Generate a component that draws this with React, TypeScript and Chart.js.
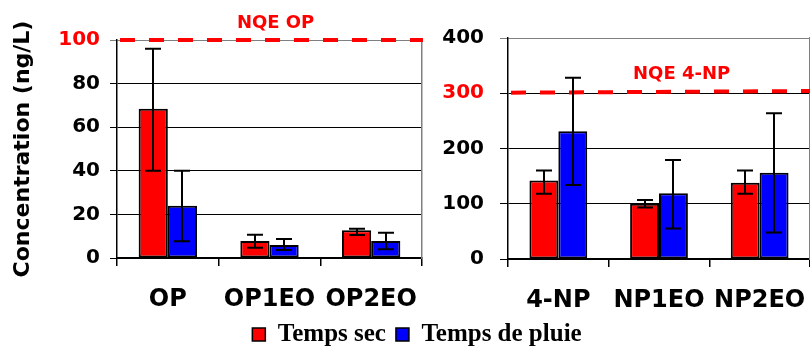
import { useEffect, useRef } from 'react';
import { Chart, registerables } from 'chart.js';
Chart.register(...registerables);

// ---- Data: left panel (OP family, ng/L) ----
const opCategories = ['OP', 'OP1EO', 'OP2EO'];
const opSec = [68.5, 7.8, 12.7];
const opSecLow = [40, 4.7, 10.5];
const opSecHigh = [96, 10.7, 13.4];
const opPluie = [24, 6, 7.8];
const opPluieLow = [7.7, 3.7, 4];
const opPluieHigh = [40, 8.7, 11.6];
const opTicks = [0, 20, 40, 60, 80, 100];
const nqeOp = [100, 100];

// ---- Data: right panel (NP family, ng/L) ----
const npCategories = ['4-NP', 'NP1EO', 'NP2EO'];
const npSec = [142, 100, 138];
const npSecLow = [118, 93, 118];
const npSecHigh = [160, 107, 160];
const npPluie = [231, 119, 156];
const npPluieLow = [134, 55, 48];
const npPluieHigh = [328, 179, 264];
const npTicks = [0, 100, 200, 300, 400];
const nqeNp = [301, 304];

const seriesNames = ['Temps sec', 'Temps de pluie'];
const seriesColors = ['#FF0000', '#0000FF'];
const nqeTexts = ['NQE OP', 'NQE 4-NP'];
const yTitle = 'Concentration (ng/L)';

const SANS = 'DejaVu Sans';

// Error bars drawn from each dataset's low/high arrays through the y scale
const errorBarPlugin = {
  id: 'errorBars',
  afterDatasetsDraw(chart: any) {
    const ctx = chart.ctx;
    chart.data.datasets.forEach((ds: any, di: number) => {
      if (!ds.errLow) return;
      const meta = chart.getDatasetMeta(di);
      const ys = chart.scales[meta.yAxisID];
      meta.data.forEach((el: any, i: number) => {
        const x = Math.round(el.x);
        const yh = ys.getPixelForValue(ds.errHigh[i]);
        const yl = ys.getPixelForValue(ds.errLow[i]);
        ctx.save();
        ctx.strokeStyle = '#000';
        ctx.lineWidth = 2;
        ctx.beginPath();
        ctx.moveTo(x, yh);
        ctx.lineTo(x, yl);
        ctx.moveTo(x - 8, yh);
        ctx.lineTo(x + 8, yh);
        ctx.moveTo(x - 8, yl);
        ctx.lineTo(x + 8, yl);
        ctx.stroke();
        ctx.restore();
      });
    });
  },
};

// NQE threshold line (through the y scale) and its label
const nqePlugin = {
  id: 'nqe',
  afterDatasetsDraw(chart: any, _args: any, opts: any) {
    if (!opts || !opts.values) return;
    const { ctx, chartArea } = chart;
    const ys = chart.scales.y;
    const y0 = ys.getPixelForValue(opts.values[0]);
    const y1 = ys.getPixelForValue(opts.values[1]);
    ctx.save();
    ctx.strokeStyle = '#FF0000';
    ctx.lineWidth = 4;
    ctx.setLineDash([15, 14]);
    ctx.beginPath();
    ctx.moveTo(chartArea.left + 3, y0);
    ctx.lineTo(chartArea.right + 1, y1);
    ctx.stroke();
    ctx.setLineDash([]);
    ctx.font = `bold 18px "${SANS}"`;
    ctx.fillStyle = '#FF0000';
    ctx.textAlign = 'center';
    ctx.textBaseline = 'middle';
    const lx = chartArea.left + opts.labelX * (chartArea.right - chartArea.left);
    ctx.fillText(opts.text, lx, ys.getPixelForValue(opts.labelY));
    ctx.restore();
  },
};

type PanelCfg = {
  categories: string[];
  sec: number[]; secLow: number[]; secHigh: number[];
  pluie: number[]; pluieLow: number[]; pluieHigh: number[];
  ticks: number[];
  redTick: number;
  nqe: number[];
  nqeText: string;
  nqeX: number;
  nqeY: number;
  axisWidth: number;
  tickLen: number;
  tickPad: number;
  showTitle: boolean;
  padTop: number;
  padRight: number;
  xHeight: number;
};

function makePanel(canvas: HTMLCanvasElement, c: PanelCfg) {
  const max = c.ticks[c.ticks.length - 1];
  const barCommon = {
    type: 'bar',
    borderColor: '#000',
    borderWidth: 2,
    borderSkipped: false,
    barPercentage: 1,
    categoryPercentage: 0.574,
  };
  return new Chart(canvas, {
    type: 'bar',
    data: {
      labels: c.categories,
      datasets: [
        {
          ...barCommon,
          label: seriesNames[0],
          data: c.sec,
          backgroundColor: seriesColors[0],
          errLow: c.secLow,
          errHigh: c.secHigh,
        } as any,
        {
          ...barCommon,
          label: seriesNames[1],
          data: c.pluie,
          backgroundColor: seriesColors[1],
          errLow: c.pluieLow,
          errHigh: c.pluieHigh,
        } as any,
      ],
    },
    options: {
      animation: false,
      responsive: false,
      events: [],
      layout: { padding: { top: c.padTop, right: c.padRight, left: 0, bottom: 0 } },
      plugins: {
        legend: { display: false },
        tooltip: { enabled: false },
        nqe: { values: c.nqe, text: c.nqeText, labelX: c.nqeX, labelY: c.nqeY },
      } as any,
      scales: {
        x: {
          type: 'category',
          offset: true,
          grid: {
            offset: true,
            drawOnChartArea: false,
            drawTicks: true,
            tickLength: 8,
            color: '#000',
            lineWidth: 1.5,
          },
          border: { color: '#000', width: 2 },
          ticks: {
            font: { family: SANS, weight: 'bold', size: 24 },
            color: '#000',
            padding: 19,
            maxRotation: 0,
            autoSkip: false,
          },
          afterFit: (s: any) => {
            s.height = c.xHeight;
            s.paddingLeft = 0;
            s.paddingRight = 0;
          },
        },
        y: {
          type: 'linear',
          position: 'left',
          min: 0,
          max,
          afterBuildTicks: (s: any) => {
            s.ticks = c.ticks.map((v) => ({ value: v }));
          },
          ticks: {
            color: (ctx: any) => (ctx.tick && ctx.tick.value === c.redTick ? '#FF0000' : '#000'),
            font: { family: SANS, weight: 'bold', size: 20 },
            padding: c.tickPad,
          },
          grid: {
            color: (ctx: any) => (ctx.tick && ctx.tick.value === max ? '#808080' : '#000'),
            lineWidth: 1,
            tickLength: c.tickLen,
            drawTicks: true,
          },
          border: { color: '#000', width: 1.5 },
          title: {
            display: c.showTitle,
            text: yTitle,
            color: '#000',
            font: { family: SANS, weight: 'bold', size: 22 },
            padding: { top: 10, bottom: 0 },
          },
          afterFit: (s: any) => {
            s.width = c.axisWidth;
            s.paddingTop = 0;
            s.paddingBottom = 0;
          },
        },
        y2: {
          type: 'linear',
          position: 'right',
          display: true,
          ticks: { display: false },
          grid: { drawOnChartArea: false, drawTicks: false },
          border: { color: '#808080', width: 1.5 },
          afterFit: (s: any) => {
            s.width = 0;
            s.paddingTop = 0;
            s.paddingBottom = 0;
          },
        },
      } as any,
    },
    plugins: [nqePlugin, errorBarPlugin],
  } as any);
}

function makeLegend(canvas: HTMLCanvasElement) {
  return new Chart(canvas, {
    type: 'bar',
    data: {
      labels: [],
      datasets: seriesNames.map((n, i) => ({
        label: n,
        data: [],
        backgroundColor: seriesColors[i],
        borderColor: '#000',
        borderWidth: 1.5,
      })),
    },
    options: {
      animation: false,
      responsive: false,
      events: [],
      layout: { padding: { left: 24, top: 22, bottom: 0 } },
      scales: { x: { display: false }, y: { display: false } },
      plugins: {
        tooltip: { enabled: false },
        legend: {
          display: true,
          position: 'top',
          maxHeight: 60,
          labels: {
            boxWidth: 13,
            boxHeight: 13,
            color: '#000',
            padding: 10,
            font: { family: 'Liberation Serif', weight: 'bold', size: 25 },
          },
        },
      },
    },
  } as any);
}

export default function App() {
  const leftRef = useRef<HTMLCanvasElement>(null);
  const rightRef = useRef<HTMLCanvasElement>(null);
  const legendRef = useRef<HTMLCanvasElement>(null);

  useEffect(() => {
    const charts = [
      makePanel(leftRef.current!, {
        categories: opCategories,
        sec: opSec, secLow: opSecLow, secHigh: opSecHigh,
        pluie: opPluie, pluieLow: opPluieLow, pluieHigh: opPluieHigh,
        ticks: opTicks,
        redTick: 100,
        nqe: nqeOp,
        nqeText: nqeTexts[0],
        nqeX: 0.52,
        nqeY: 107.5,
        axisWidth: 117,
        tickLen: 7,
        tickPad: 10,
        showTitle: true,
        padTop: 40,
        padRight: 4,
        xHeight: 57,
      }),
      makePanel(rightRef.current!, {
        categories: npCategories,
        sec: npSec, secLow: npSecLow, secHigh: npSecHigh,
        pluie: npPluie, pluieLow: npPluieLow, pluieHigh: npPluieHigh,
        ticks: npTicks,
        redTick: 300,
        nqe: nqeNp,
        nqeText: nqeTexts[1],
        nqeX: 0.575,
        nqeY: 335,
        axisWidth: 88,
        tickLen: 8,
        tickPad: 16,
        showTitle: false,
        padTop: 38,
        padRight: 0,
        xHeight: 56,
      }),
      makeLegend(legendRef.current!),
    ];
    return () => charts.forEach((ch) => ch.destroy());
  }, []);

  return (
    <div
      style={{
        position: 'fixed',
        left: 0,
        top: 0,
        width: 810,
        height: 347,
        overflow: 'hidden',
        background: '#fff',
      }}
    >
      <canvas ref={leftRef} width={426} height={315} style={{ position: 'absolute', left: 0, top: 0 }} />
      <canvas ref={rightRef} width={390} height={315} style={{ position: 'absolute', left: 420, top: 0 }} />
      <canvas ref={legendRef} width={810} height={120} style={{ position: 'absolute', left: 0, top: 290 }} />
    </div>
  );
}
